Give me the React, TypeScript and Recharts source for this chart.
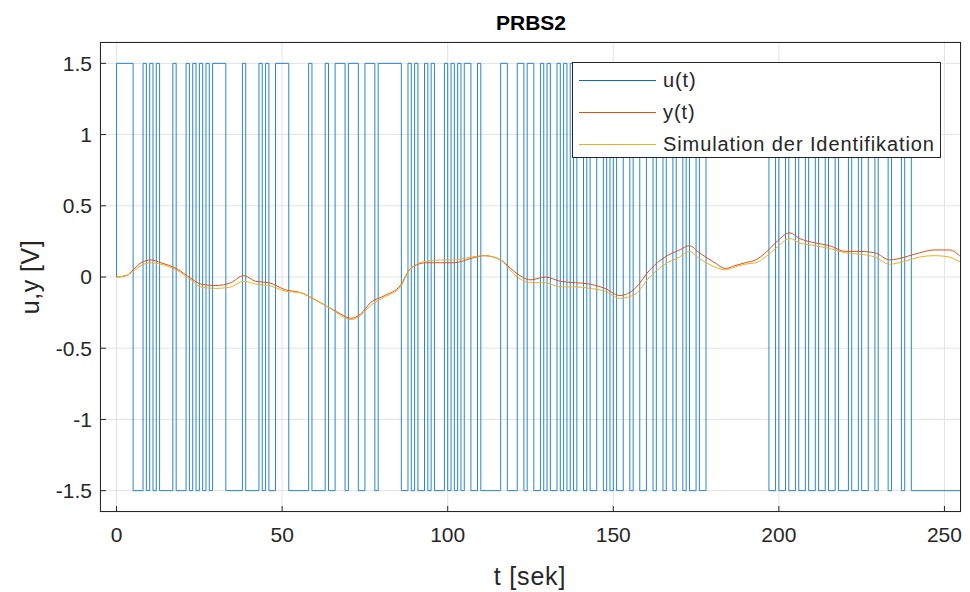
import React from "react"
import { LineChart, Line, XAxis, YAxis, CartesianGrid } from "recharts"

// PRBS input u(t): times where u switches to +1.5 and back to -1.5
const uRiseTimes = [0, 8, 10, 12, 17, 21, 23, 25, 27, 29, 38, 43, 45, 48, 58, 63, 66, 70, 75, 79, 88, 90, 93, 95, 99, 101, 103, 105, 109, 116, 121, 124, 128, 130, 133, 135, 137, 139, 142, 145, 148, 150, 153, 156, 160, 163, 166, 169, 172, 175, 178, 199, 202, 205, 208, 211, 214, 217, 221, 224, 227, 230, 234, 238]
const uFallTimes = [5, 9, 11, 13, 18, 22, 24, 26, 28, 33, 39, 44, 46, 52, 59, 64, 69, 73, 78, 86, 89, 91, 94, 96, 100, 102, 104, 107, 110, 118, 123, 126, 129, 131, 134, 136, 138, 141, 143, 147, 149, 151, 155, 158, 162, 165, 168, 171, 173, 176, 197, 200, 203, 206, 209, 212, 215, 218, 222, 225, 229, 233, 237, 240]

// measured output y(t) and simulated output of the identified model
const yTimes = [0, 3, 5, 7.4, 10.4, 13.4, 18, 22.5, 25.5, 30, 34.5, 38.4, 42, 46, 51, 55.6, 60, 64.6, 67.7, 70.7, 73.7, 76.7, 81, 85.7, 88.8, 93.3, 97.8, 102, 107, 111, 116, 120, 125, 129.5, 134, 138.5, 143, 147.5, 152, 156.6, 161, 165.6, 170, 173, 176, 180.7, 183.8, 186.8, 189.8, 193, 196, 199, 203.3, 206.3, 210.8, 215.3, 220, 224.5, 229, 233.5, 238, 242.5, 247, 251.5, 255]
const yValues = [0, 0.01, 0.05, 0.1, 0.12, 0.1, 0.06, -0.01, -0.05, -0.06, -0.04, 0.01, -0.03, -0.04, -0.09, -0.11, -0.16, -0.22, -0.26, -0.29, -0.26, -0.18, -0.13, -0.06, 0.06, 0.1, 0.1, 0.1, 0.13, 0.15, 0.12, 0.04, -0.02, 0, -0.03, -0.04, -0.05, -0.08, -0.13, -0.08, 0.05, 0.14, 0.19, 0.22, 0.17, 0.1, 0.06, 0.08, 0.1, 0.12, 0.17, 0.24, 0.31, 0.27, 0.24, 0.22, 0.18, 0.18, 0.17, 0.12, 0.14, 0.17, 0.19, 0.19, 0.14]
const simValues = [0, 0.01, 0.04, 0.08, 0.1, 0.09, 0.05, -0.02, -0.07, -0.08, -0.07, -0.03, -0.05, -0.06, -0.1, -0.11, -0.16, -0.22, -0.27, -0.3, -0.27, -0.2, -0.14, -0.07, 0.06, 0.11, 0.12, 0.12, 0.14, 0.15, 0.12, 0.02, -0.04, -0.04, -0.07, -0.07, -0.08, -0.1, -0.15, -0.12, 0, 0.09, 0.14, 0.18, 0.13, 0.07, 0.05, 0.07, 0.09, 0.1, 0.14, 0.2, 0.27, 0.24, 0.22, 0.2, 0.17, 0.16, 0.14, 0.09, 0.11, 0.14, 0.15, 0.14, 0.1]

const xTicks = [0, 50, 100, 150, 200, 250]
const yTicks = [-1.5, -1, -0.5, 0, 0.5, 1, 1.5]

const uData: { t: number; u: number }[] = [{ t: 0, u: 0 }]
uRiseTimes.forEach((r, i) => {
  uData.push({ t: r, u: 1.5 })
  uData.push({ t: uFallTimes[i], u: -1.5 })
})
uData.push({ t: 255, u: -1.5 })

const yData = yTimes.map((t, i) => ({ t, y: yValues[i] }))
const simData = yTimes.map((t, i) => ({ t, sim: simValues[i] }))

const FONT = "'Liberation Sans', Arial, Helvetica, sans-serif"
const TEXT = "#262626"
const TICK_SIZE = 6
const TICK_MARGIN_X = 9
const TICK_MARGIN_Y = 2

const legendItems = [
  { name: "u(t)", color: "#0072BD" },
  { name: "y(t)", color: "#D95319" },
  { name: "Simulation der Identifikation", color: "#EDB120" },
]

// tick label plus a short inward tick mark (MATLAB style)
function XTick(props: any) {
  const { x, y, payload } = props
  const axisY = y - TICK_SIZE - TICK_MARGIN_X
  return (
    <g>
      <line x1={x} x2={x} y1={axisY} y2={axisY - 6} stroke={TEXT} strokeWidth={1} />
      <text x={x} y={y} dy="0.71em" textAnchor="middle" fontSize={21} fill={TEXT} fontFamily={FONT}>
        {payload.value}
      </text>
    </g>
  )
}

function YTick(props: any) {
  const { x, y, payload } = props
  const axisX = x + TICK_SIZE + TICK_MARGIN_Y
  return (
    <g>
      <line x1={axisX} x2={axisX + 6} y1={y} y2={y} stroke={TEXT} strokeWidth={1} />
      <text x={x} y={y} dy="0.355em" textAnchor="end" fontSize={21} fill={TEXT} fontFamily={FONT}>
        {payload.value}
      </text>
    </g>
  )
}

export default function App() {
  return (
    <div style={{ position: "absolute", left: 0, top: 0, width: 970, height: 592, background: "#fff", fontFamily: FONT }}>
      <LineChart width={970} height={592} margin={{ top: 42, right: 9, bottom: 0, left: 0 }}>
        <CartesianGrid stroke="#e3e3e3" />
        <XAxis
          dataKey="t"
          type="number"
          domain={[-5, 255]}
          ticks={xTicks}
          allowDataOverflow
          height={80}
          axisLine={false}
          tickLine={false}
          tickSize={TICK_SIZE}
          tickMargin={TICK_MARGIN_X}
          tick={<XTick />}
        />
        <YAxis
          type="number"
          domain={[-1.65, 1.65]}
          ticks={yTicks}
          allowDataOverflow
          width={100}
          axisLine={false}
          tickLine={false}
          tickSize={TICK_SIZE}
          tickMargin={TICK_MARGIN_Y}
          tick={<YTick />}
        />
        <Line data={uData} dataKey="u" type="stepAfter" stroke="#2a86cc" strokeWidth={1} dot={false} isAnimationActive={false} />
        <Line data={yData} dataKey="y" type="monotone" stroke="#D95319" strokeWidth={1} dot={false} isAnimationActive={false} />
        <Line data={simData} dataKey="sim" type="monotone" stroke="#EDB120" strokeWidth={1} dot={false} isAnimationActive={false} />
      </LineChart>

      {/* axes box */}
      <div style={{ position: "absolute", left: 100, top: 42, width: 861, height: 470, border: `1px solid ${TEXT}`, boxSizing: "border-box", pointerEvents: "none" }} />

      <div style={{ position: "absolute", left: 531, top: 22, transform: "translate(-50%, -50%)", fontSize: 21, fontWeight: "bold", color: "#000", lineHeight: 1 }}>PRBS2</div>
      <div style={{ position: "absolute", left: 530, top: 576, transform: "translate(-50%, -50%)", fontSize: 25, letterSpacing: 0.8, color: TEXT, lineHeight: 1, whiteSpace: "nowrap" }}>t [sek]</div>
      <div style={{ position: "absolute", left: 30, top: 277, transform: "translate(-50%, -50%) rotate(-90deg)", fontSize: 25, letterSpacing: 0.5, color: TEXT, lineHeight: 1, whiteSpace: "nowrap" }}>u,y [V]</div>

      <div style={{ position: "absolute", left: 572, top: 62, width: 369, height: 96, border: `1px solid ${TEXT}`, boxSizing: "border-box", background: "#fff" }}>
        {legendItems.map((it, i) => (
          <div key={it.name} style={{ position: "absolute", left: 0, top: 17 + i * 32, transform: "translateY(-50%)", display: "flex", alignItems: "center", whiteSpace: "nowrap" }}>
            <div style={{ marginLeft: 6, width: 77, height: 1, background: it.color }} />
            <div style={{ marginLeft: 7, fontSize: 20, letterSpacing: 0.9, color: TEXT, lineHeight: 1 }}>{it.name}</div>
          </div>
        ))}
      </div>
    </div>
  )
}
